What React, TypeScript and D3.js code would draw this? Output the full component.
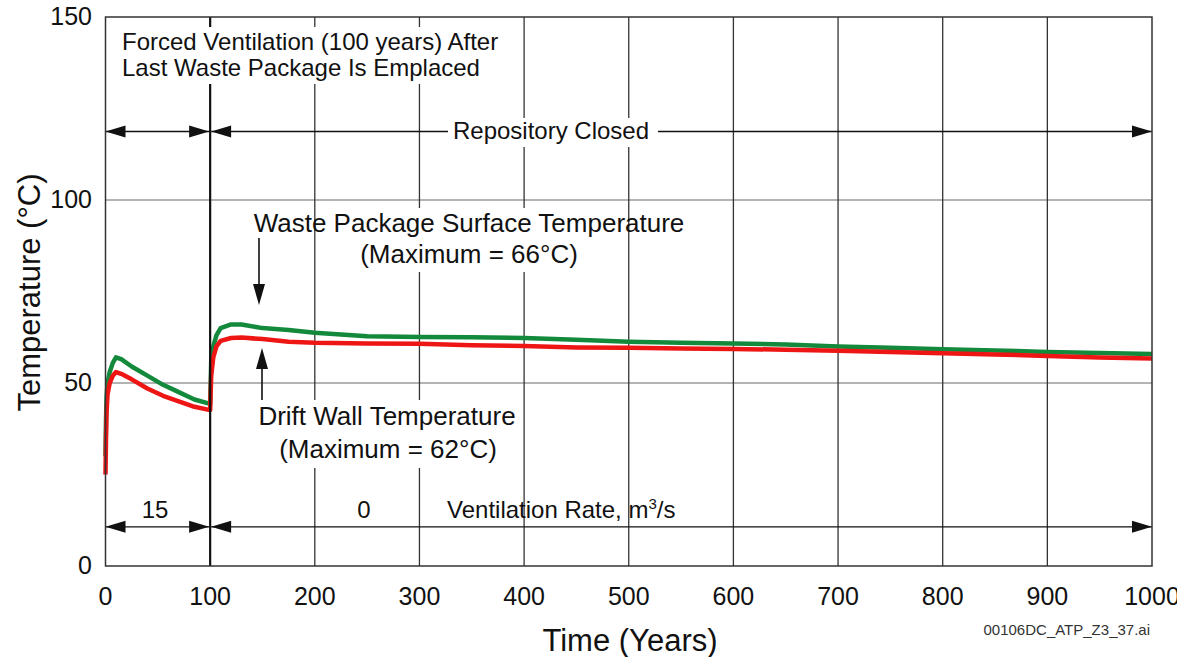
import React, { useEffect, useRef } from "react"
import * as d3 from "d3"

// time in years, temperatures in deg C
const years = [0, 0.5, 1, 2, 4, 7, 10, 15, 25, 40, 55, 70, 85, 100, 100, 101, 103, 106, 110, 120, 130, 150, 175, 200, 250, 300, 350, 400, 450, 500, 550, 600, 650, 700, 750, 800, 850, 900, 950, 1000]
const wastePackage = [30, 40, 46, 50, 53, 55.5, 57, 56.5, 54.5, 52, 49.5, 47.5, 45.5, 44.3, 44.3, 56, 60, 63, 65, 66, 66, 65, 64.5, 63.7, 62.8, 62.6, 62.5, 62.3, 61.8, 61.3, 61, 60.8, 60.5, 60, 59.6, 59.2, 58.9, 58.5, 58.2, 57.9]
const driftWall = [25, 35, 42, 47, 50, 52, 53, 52.5, 51, 48.5, 46.5, 45, 43.5, 42.6, 42.6, 52, 57, 60, 61.5, 62.3, 62.4, 62, 61.3, 61, 60.8, 60.7, 60.3, 60.1, 59.7, 59.6, 59.4, 59.3, 59.1, 58.8, 58.5, 58.1, 57.8, 57.4, 57, 56.7]

const xTicks = [0, 100, 200, 300, 400, 500, 600, 700, 800, 900, 1000]
const yTicks = [0, 50, 100, 150]
const FONT = "Arial, 'Liberation Sans', sans-serif"

const App = () => {
	const svgRef = useRef(null)

	useEffect(() => {
		const width = 1177
		const height = 657
		const svg = d3.select(svgRef.current)
		svg.selectAll("*").remove()

		const x = d3.scaleLinear().domain([0, 1000]).range([105.5, 1152])
		const y = d3.scaleLinear().domain([0, 150]).range([566, 17])

		// grid
		svg.append("g")
			.selectAll("line")
			.data(yTicks.slice(1, -1))
			.join("line")
			.attr("x1", x(0)).attr("x2", x(1000))
			.attr("y1", (d) => y(d)).attr("y2", (d) => y(d))
			.attr("stroke", "#9a9a9a").attr("stroke-width", 1.3)
		svg.append("g")
			.selectAll("line")
			.data(xTicks.slice(1, -1).filter((d) => d !== 100))
			.join("line")
			.attr("x1", (d) => x(d)).attr("x2", (d) => x(d))
			.attr("y1", y(0)).attr("y2", y(150))
			.attr("stroke", "#333").attr("stroke-width", 1.3)

		// period arrows (top: repository state, bottom: ventilation rate)
		const arrow = (g, x1, x2, yy) => {
			g.append("line").attr("x1", x1).attr("x2", x2).attr("y1", yy).attr("y2", yy)
				.attr("stroke", "#111").attr("stroke-width", 1.4)
			g.append("path").attr("d", `M${x1},${yy}l20,-6v12z`).attr("fill", "#111")
			g.append("path").attr("d", `M${x2},${yy}l-20,-6v12z`).attr("fill", "#111")
		}
		const arrows = svg.append("g")
		arrow(arrows, x(0), x(100) - 1, y(118.7))
		arrow(arrows, x(100) + 1, x(1000), y(118.7))
		arrow(arrows, x(0), x(100) - 1, y(10.7))
		arrow(arrows, x(100) + 1, x(1000), y(10.7))

		// curves
		const line = d3.line().x((d) => x(d[0])).y((d) => y(d[1]))
		const series = [
			{ values: wastePackage, color: "#13893b" },
			{ values: driftWall, color: "#ee1515" },
		]
		series.forEach((s) => {
			svg.append("path")
				.datum(years.map((t, i) => [t, s.values[i]]))
				.attr("d", line)
				.attr("fill", "none")
				.attr("stroke", s.color)
				.attr("stroke-width", 4.5)
				.attr("stroke-linejoin", "round")
		})

		// end of forced ventilation marker
		svg.append("line")
			.attr("x1", x(100)).attr("x2", x(100))
			.attr("y1", y(150)).attr("y2", y(0))
			.attr("stroke", "#111").attr("stroke-width", 2.2)

		// frame
		svg.append("rect")
			.attr("x", x(0)).attr("y", y(150))
			.attr("width", x(1000) - x(0)).attr("height", y(0) - y(150))
			.attr("fill", "none").attr("stroke", "#333").attr("stroke-width", 1.5)

		// white boxes behind annotations
		const boxes = [
			[118, 27, 384, 57],
			[448, 118, 210, 29],
			[355, 208, 240, 64],
			[252, 400, 270, 68],
		]
		svg.append("g")
			.selectAll("rect")
			.data(boxes)
			.join("rect")
			.attr("x", (d) => d[0]).attr("y", (d) => d[1])
			.attr("width", (d) => d[2]).attr("height", (d) => d[3])
			.attr("fill", "#fff")

		const text = (str, tx, ty, size, anchor = "start") =>
			svg.append("text")
				.attr("x", tx).attr("y", ty)
				.attr("font-family", FONT).attr("font-size", size)
				.attr("text-anchor", anchor).attr("fill", "#111")
				.text(str)

		text("Forced Ventilation (100 years) After", 122, 50, 24)
		text("Last Waste Package Is Emplaced", 122, 76, 24)
		text("Repository Closed", 551, 139, 24, "middle")
		text("Waste Package Surface Temperature", 469, 232, 26, "middle")
		text("(Maximum = 66°C)", 469, 263, 26, "middle")
		text("Drift Wall Temperature", 387, 425, 26, "middle")
		text("(Maximum = 62°C)", 388, 458, 26, "middle")
		text("15", 155, 518, 24, "middle")
		text("0", 364, 518, 24, "middle")
		const vr = text("Ventilation Rate, m", 447, 518, 24)
		vr.append("tspan").attr("font-size", 15).attr("dy", -9).text("3")
		vr.append("tspan").attr("dy", 9).text("/s")

		// pointer arrows
		const ptr = svg.append("g").attr("stroke", "#111").attr("fill", "#111")
		ptr.append("line").attr("x1", 259).attr("x2", 259).attr("y1", 238).attr("y2", 290).attr("stroke-width", 1.6)
		ptr.append("path").attr("d", "M259,305l-6,-21h12z").attr("stroke", "none")
		ptr.append("line").attr("x1", 262).attr("x2", 262).attr("y1", 400).attr("y2", 362).attr("stroke-width", 1.6)
		ptr.append("path").attr("d", "M262,348l-6,21h12z").attr("stroke", "none")

		// axes labels
		svg.append("g")
			.selectAll("text")
			.data(xTicks)
			.join("text")
			.attr("x", (d) => x(d)).attr("y", 605)
			.attr("text-anchor", "middle")
			.attr("font-family", FONT).attr("font-size", 25).attr("fill", "#111")
			.text((d) => d)
		svg.append("g")
			.selectAll("text")
			.data(yTicks)
			.join("text")
			.attr("x", 92).attr("y", (d) => y(d) + 8)
			.attr("text-anchor", "end")
			.attr("font-family", FONT).attr("font-size", 25).attr("fill", "#111")
			.text((d) => d)

		text("Time (Years)", 630, 651, 31, "middle")
		svg.append("text")
			.attr("transform", `translate(40,${height / 2 - 36}) rotate(-90)`)
			.attr("text-anchor", "middle")
			.attr("font-family", FONT).attr("font-size", 31).attr("fill", "#111")
			.text("Temperature (°C)")

		svg.append("text")
			.attr("x", 1150).attr("y", 635)
			.attr("text-anchor", "end")
			.attr("font-family", FONT).attr("font-size", 15).attr("fill", "#333")
			.text("00106DC_ATP_Z3_37.ai")
		svg.attr("viewBox", `0 0 ${width} ${height}`)
	}, [])

	return (
		<svg
			ref={svgRef}
			width={1177}
			height={657}
			style={{ position: "absolute", left: 0, top: 0, background: "#fff" }}
		/>
	)
}

export default App
